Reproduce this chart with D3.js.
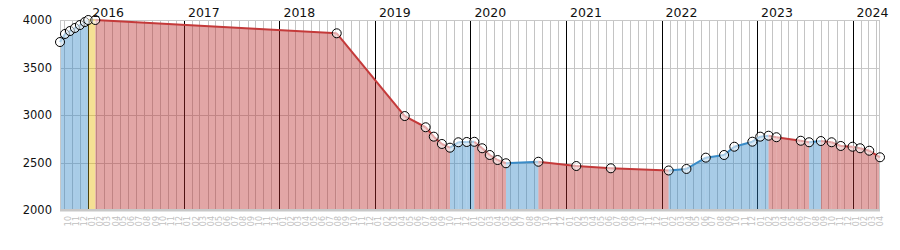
<!DOCTYPE html>
<html><head><meta charset="utf-8">
<script src="https://cdn.jsdelivr.net/npm/d3@7"></script>
<style>body{margin:0;background:#fff}svg{display:block}</style>
</head><body>
<svg id="chart" width="900" height="250"></svg>
<script>
// ---- data ----
const obsDates = [
  "2015-09-15","2015-10-04","2015-10-23","2015-11-11","2015-11-30","2015-12-19",
  "2016-01-01","2016-01-28","2018-08-08","2019-04-25","2019-07-14","2019-08-14",
  "2019-09-14","2019-10-15","2019-11-16","2019-12-18","2020-01-16","2020-02-15",
  "2020-03-15","2020-04-14","2020-05-16","2020-09-17","2021-02-09","2021-06-21",
  "2022-01-28","2022-04-06","2022-06-19","2022-08-28","2022-10-06","2022-12-14",
  "2023-01-13","2023-02-14","2023-03-16","2023-06-17","2023-07-19","2023-09-02",
  "2023-10-13","2023-11-17","2024-01-01","2024-01-30","2024-03-05","2024-04-15"
];
const obsValues = [
  3768,3853,3884,3916,3947,3979,
  4000,4000,3860,2989,2871,2772,
  2695,2656,2713,2716,2718,2650,
  2579,2526,2492,2508,2463,2439,
  2416,2432,2551,2579,2666,2719,
  2772,2782,2766,2729,2713,2726,
  2713,2674,2666,2650,2624,2555
];
const yTicks = [2000, 2500, 3000, 3500, 4000];
const yearLabels = ["2016","2017","2018","2019","2020","2021","2022","2023","2024"];

// ---- layout ----
const W = 900, H = 250, M = {l: 60, r: 20, t: 20, b: 40};
const FONT = "DejaVu Sans, Verdana, sans-serif";
const COL = {
  up:   {line: "#3a8cc8", fill: "#2f86c6"},
  down: {line: "#c43a3a", fill: "#bb2b2b"},
  flat: {line: "#d9a800", fill: "#e6b400"}
};

const parse = d3.utcParse("%Y-%m-%d");
const data = obsDates.map((d, i) => ({date: parse(d), value: obsValues[i]}));
const svg = d3.select("#chart");

const x = d3.scaleUtc().domain(d3.extent(data, d => d.date)).range([M.l, W - M.r]);
const y = d3.scaleLinear().domain([2000, 4000]).range([H - M.b, M.t]);
const [d0, d1] = x.domain();

// gridlines
const months = d3.utcMonth.range(d3.utcMonth.ceil(d0), d1);
svg.append("g").selectAll("line").data(yTicks).join("line")
  .attr("x1", M.l).attr("x2", W - M.r)
  .attr("y1", d => Math.round(y(d)) + 0.5).attr("y2", d => Math.round(y(d)) + 0.5)
  .attr("stroke", "#c8c8c8");

svg.append("g").selectAll("line").data(months).join("line")
  .attr("x1", d => Math.round(x(d)) + 0.5).attr("x2", d => Math.round(x(d)) + 0.5)
  .attr("y1", M.t).attr("y2", H - M.b)
  .attr("stroke", d => d.getUTCMonth() === 0 ? "#000" : "#c4c4c4")
  .attr("stroke-width", 1);

// fill segments + line segments
const pairs = d3.pairs(data);
const kind = ([a, b]) => b.value > a.value ? "up" : (b.value < a.value ? "down" : "flat");
const area = d3.area().x(d => x(d.date)).y0(y(2000)).y1(d => y(d.value));
const line = d3.line().x(d => x(d.date)).y(d => y(d.value));

svg.append("g").selectAll("path").data(pairs).join("path")
  .attr("d", p => area(p))
  .attr("fill", p => COL[kind(p)].fill)
  .attr("fill-opacity", 0.42)
  .attr("stroke", "none");

// plot border
svg.append("rect")
  .attr("x", M.l + 0.5).attr("y", M.t + 0.5)
  .attr("width", W - M.l - M.r - 1).attr("height", H - M.t - M.b - 1)
  .attr("fill", "none").attr("stroke", "#c8c8c8");
svg.append("line")
  .attr("x1", M.l).attr("x2", W - M.r)
  .attr("y1", H - M.b + 0.5).attr("y2", H - M.b + 0.5)
  .attr("stroke", "#c8c8c8").attr("stroke-width", 2);

svg.append("g").selectAll("path").data(pairs).join("path")
  .attr("d", p => line(p))
  .attr("fill", "none")
  .attr("stroke", p => COL[kind(p)].line)
  .attr("stroke-width", 2);

// points
svg.append("g").selectAll("circle").data(data).join("circle")
  .attr("cx", d => x(d.date)).attr("cy", d => y(d.value)).attr("r", 4.5)
  .attr("fill", "#fff").attr("fill-opacity", 0.55)
  .attr("stroke", "#000").attr("stroke-width", 1);

// y axis
const yAxis = svg.append("g").attr("transform", `translate(${M.l},0)`)
  .call(d3.axisLeft(y).tickValues(yTicks).tickSize(0).tickPadding(8).tickFormat(d3.format("d")));
yAxis.select(".domain").remove();
yAxis.selectAll("text").attr("font-family", FONT).attr("font-size", 11.5).attr("fill", "#111");

// year labels at top
svg.append("g").selectAll("text").data(yearLabels).join("text")
  .attr("x", d => x(parse(d + "-01-01")) + 4)
  .attr("y", 17)
  .attr("font-family", FONT).attr("font-size", 12.5).attr("fill", "#111")
  .text(d => d);

// month labels at bottom (rotated)
const monthFmt = d3.utcFormat("%m");
const monthMids = months.map(d => d3.utcDay.offset(d, 14)).filter(d => d <= d1);
svg.append("g").selectAll("text").data(monthMids).join("text")
  .attr("transform", d => `translate(${x(d)},216) rotate(-90)`)
  .attr("text-anchor", "end")
  .attr("dy", "0.35em")
  .attr("font-family", FONT).attr("font-size", 8).attr("fill", "#c0c0c0")
  .text(d => monthFmt(d));
</script>
</body></html>
